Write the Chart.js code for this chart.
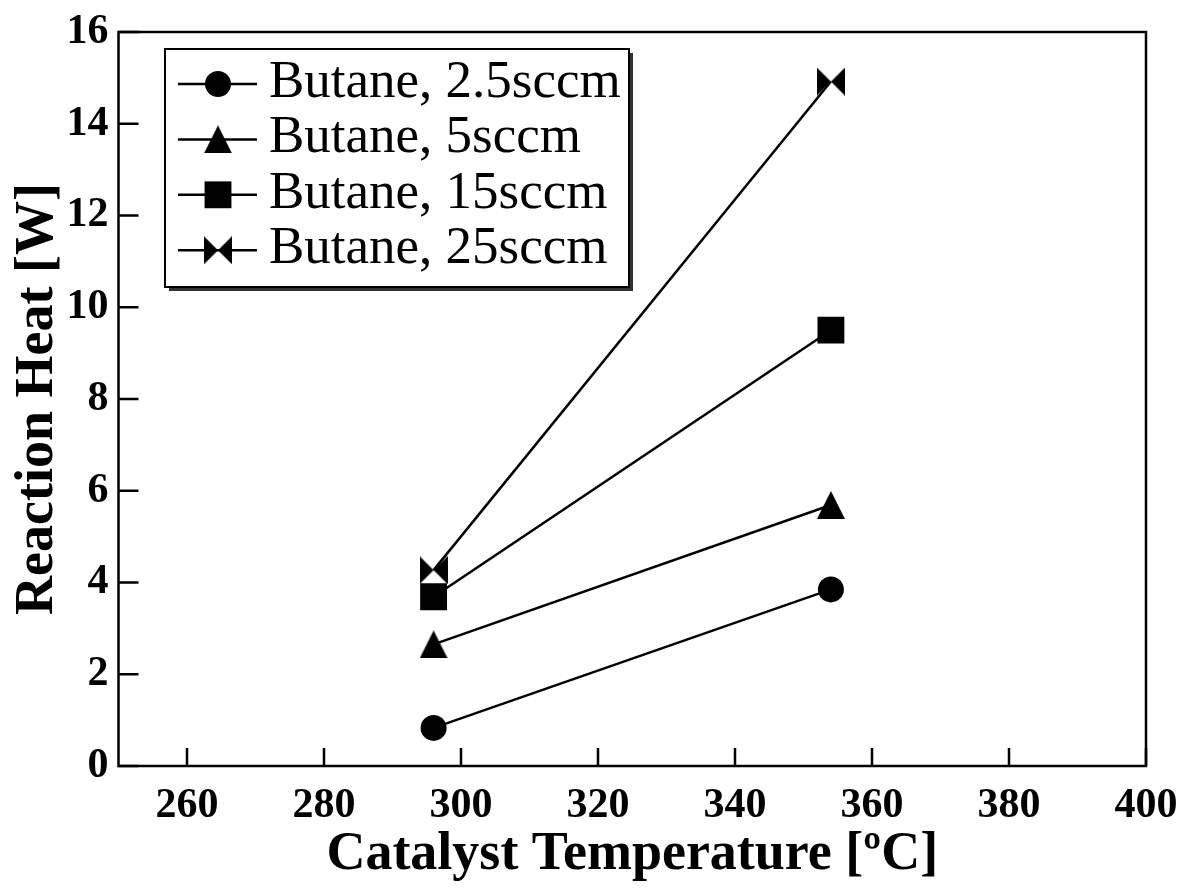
<!DOCTYPE html>
<html lang="en">
<head>
<meta charset="UTF-8">
<title>Reaction Heat vs Catalyst Temperature</title>
<script src="https://cdn.jsdelivr.net/npm/chart.js"></script>
<style>
    body { margin: 0; background: #fff; }
    #wrap { width: 1184px; height: 889px; }
</style>
</head>
<body>
<div id="wrap"><canvas id="heatChart" width="1184" height="889"></canvas></div>
<script>
// catalyst temperature [ºC] for both measurements
const temperatures = [296, 354];
// reaction heat [W] per butane flow
const heat2p5sccm = [0.83, 3.85];
const heat5sccm = [2.65, 5.69];
const heat15sccm = [3.69, 9.50];
const heat25sccm = [4.27, 14.92];
const seriesLabels = ['Butane, 2.5sccm', 'Butane, 5sccm', 'Butane, 15sccm', 'Butane, 25sccm'];
const xTickValues = [260, 280, 300, 320, 340, 360, 380, 400];
const yTickValues = [0, 2, 4, 6, 8, 10, 12, 14, 16];

const serif = 'Liberation Serif, Times New Roman, serif';

function makeMarker(kind, size) {
    const c = document.createElement('canvas');
    c.width = size;
    c.height = size;
    const g = c.getContext('2d');
    g.fillStyle = '#000';
    g.beginPath();
    if (kind === 'triangle') {
        g.moveTo(size / 2, 0);
        g.lineTo(size, size);
        g.lineTo(0, size);
        g.closePath();
    } else {
        // bowtie: two triangles meeting in the middle
        g.moveTo(0, 0);
        g.lineTo(size / 2, size / 2);
        g.lineTo(0, size);
        g.closePath();
        g.moveTo(size, 0);
        g.lineTo(size / 2, size / 2);
        g.lineTo(size, size);
        g.closePath();
    }
    g.fill();
    return c;
}

function toPoints(values) {
    return temperatures.map((t, i) => ({ x: t, y: values[i] }));
}

function series(label, values, style, radius) {
    return {
        label: label,
        data: toPoints(values),
        borderColor: '#000',
        borderWidth: 2.5,
        pointStyle: style,
        pointRadius: radius,
        pointBackgroundColor: '#000',
        pointBorderWidth: 0,
        fill: false,
        tension: 0
    };
}

const frameTicks = {
    id: 'frameTicks',
    afterDatasetsDraw(chart) {
        const { ctx, chartArea: a, scales } = chart;
        ctx.save();
        ctx.strokeStyle = '#000';
        ctx.lineWidth = 2.5;
        ctx.strokeRect(a.left, a.top, a.right - a.left, a.bottom - a.top);
        ctx.beginPath();
        xTickValues.forEach(v => {
            const px = scales.x.getPixelForValue(v);
            ctx.moveTo(px, a.bottom);
            ctx.lineTo(px, a.bottom - 18);
        });
        yTickValues.forEach(v => {
            const py = scales.y.getPixelForValue(v);
            ctx.moveTo(a.left, py);
            ctx.lineTo(a.left + 20, py);
        });
        ctx.stroke();
        ctx.restore();
    }
};

const boxLegend = {
    id: 'boxLegend',
    afterDraw(chart) {
        const ctx = chart.ctx;
        const x0 = 165, y0 = 49, w = 464, h = 238;
        ctx.save();
        ctx.fillStyle = '#333';
        ctx.fillRect(x0 + 4, y0 + 4, w, h);
        ctx.fillStyle = '#fff';
        ctx.fillRect(x0, y0, w, h);
        ctx.strokeStyle = '#000';
        ctx.lineWidth = 2;
        ctx.strokeRect(x0, y0, w, h);
        ctx.font = '53px ' + serif;
        ctx.textBaseline = 'alphabetic';
        chart.data.datasets.forEach((ds, i) => {
            const y = y0 + 35 + i * 55.4;
            ctx.beginPath();
            ctx.lineWidth = 2.5;
            ctx.moveTo(178, y);
            ctx.lineTo(257, y);
            ctx.stroke();
            ctx.fillStyle = '#000';
            Chart.helpers.drawPoint(ctx, {
                pointStyle: ds.pointStyle, radius: ds.pointRadius, rotation: 0, borderWidth: 0
            }, 218, y);
            ctx.fillText(ds.label, 269, y + 13);
        });
        ctx.restore();
    }
};

new Chart(document.getElementById('heatChart').getContext('2d'), {
    type: 'line',
    data: {
        datasets: [
            series(seriesLabels[0], heat2p5sccm, 'circle', 13),
            series(seriesLabels[1], heat5sccm, makeMarker('triangle', 28), 14),
            series(seriesLabels[2], heat15sccm, 'rect', 19),
            series(seriesLabels[3], heat25sccm, makeMarker('bowtie', 28), 14)
        ]
    },
    options: {
        responsive: false,
        animation: false,
        layout: { padding: { top: 32, right: 38, left: 0, bottom: 0 } },
        plugins: { legend: { display: false }, tooltip: { enabled: false } },
        scales: {
            x: {
                type: 'linear',
                min: 250,
                max: 400,
                afterBuildTicks: s => { s.ticks = xTickValues.map(v => ({ value: v })); },
                afterFit: s => { s.height = 123; s.paddingLeft = 0; s.paddingRight = 0; },
                grid: { display: false, drawTicks: false },
                border: { display: false },
                ticks: {
                    padding: 15,
                    autoSkip: false,
                    maxRotation: 0,
                    color: '#000',
                    font: { family: serif, size: 42, weight: 'bold' }
                },
                title: {
                    display: true,
                    text: 'Catalyst Temperature [ºC]',
                    color: '#000',
                    font: { family: serif, size: 54, weight: 'bold' },
                    padding: { top: 0, bottom: 2 }
                }
            },
            y: {
                min: 0,
                max: 16,
                afterBuildTicks: s => { s.ticks = yTickValues.map(v => ({ value: v })); },
                afterFit: s => { s.width = 118.5; s.paddingTop = 0; s.paddingBottom = 0; },
                grid: { display: false, drawTicks: false },
                border: { display: false },
                ticks: {
                    padding: 10,
                    autoSkip: false,
                    color: '#000',
                    font: { family: serif, size: 42, weight: 'bold' }
                },
                title: {
                    display: true,
                    text: 'Reaction Heat [W]',
                    color: '#000',
                    font: { family: serif, size: 54, weight: 'bold' },
                    padding: { top: 6, bottom: 0 }
                }
            }
        }
    },
    plugins: [frameTicks, boxLegend]
});
</script>
</body>
</html>
